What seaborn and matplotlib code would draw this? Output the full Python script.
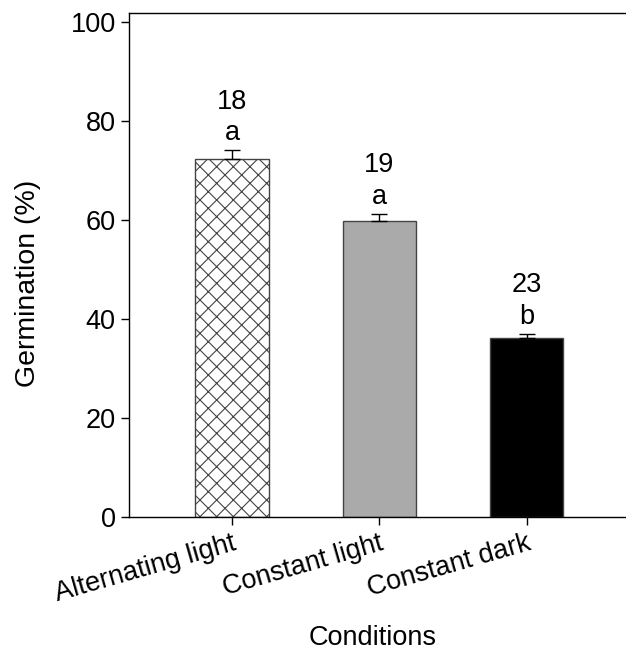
import matplotlib
matplotlib.use("Agg")
import matplotlib.pyplot as plt
import pandas as pd
import seaborn as sns

conditions = ["Alternating light", "Constant light", "Constant dark"]
germination = [72.4, 59.9, 36.2]
sem = [1.7, 1.4, 0.9]
n_seeds = ["18", "19", "23"]
letters = ["a", "a", "b"]

sns.set_theme(style="ticks")
plt.rcParams["font.family"] = ["Liberation Sans", "DejaVu Sans"]
plt.rcParams["text.color"] = "black"
plt.rcParams["axes.labelcolor"] = "black"
plt.rcParams["xtick.color"] = "black"
plt.rcParams["ytick.color"] = "black"
plt.rcParams["hatch.linewidth"] = 0.8
plt.rcParams["hatch.color"] = "black"

df = pd.DataFrame({"Conditions": conditions, "Germination": germination})

fig = plt.figure(figsize=(6.26, 6.54), dpi=100)
ax = fig.add_axes([0.206, 0.209, 0.800, 0.771])

sns.barplot(data=df, x="Conditions", y="Germination", order=conditions,
            width=0.5, ax=ax, errorbar=None, linewidth=1.0, edgecolor="#444444")

fills = ["white", "#aaaaaa", "black"]
for patch, fc, h in zip(ax.patches, fills, ["xx", "", ""]):
    patch.set_facecolor(fc)
    patch.set_hatch(h)

ax.errorbar(range(len(conditions)), germination,
            yerr=[[0] * len(sem), sem], fmt="none", ecolor="black",
            elinewidth=1.0, capsize=6, capthick=1.0)

for i, (v, s) in enumerate(zip(germination, sem)):
    top = v + s
    ax.text(i, top + 0.8, letters[i], ha="center", va="bottom", fontsize=19.5)
    ax.text(i, top + 7.2, n_seeds[i], ha="center", va="bottom", fontsize=19.5)

ax.set_xlim(-0.7, 2.7)
ax.set_ylim(0, 101.8)
ax.set_yticks([0, 20, 40, 60, 80, 100])
ax.tick_params(axis="both", labelsize=19.5, direction="out", length=6, width=1.0,
               color="black", labelcolor="black")
ax.set_xticks(range(len(conditions)))
ax.set_xticklabels(conditions, rotation=16, ha="right", rotation_mode="anchor")

for side in ["left", "top", "bottom", "right"]:
    ax.spines[side].set_color("black")
    ax.spines[side].set_linewidth(1.0)
ax.spines["right"].set_visible(False)

ax.set_xlabel("Conditions", fontsize=19.5, va="center")
ax.set_ylabel("Germination (%)", fontsize=20.5, va="center")
ax.xaxis.set_label_coords(0.487, -0.24)
ax.yaxis.set_label_coords(-0.202, 0.464)

fig.savefig("out.png", dpi=100)
